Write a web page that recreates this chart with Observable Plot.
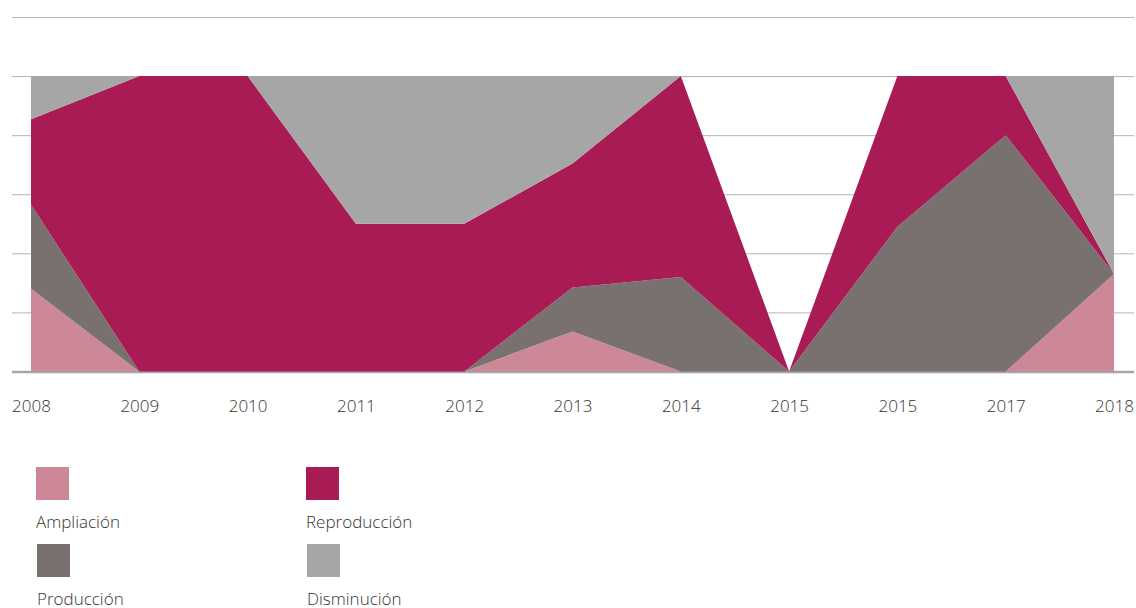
<!DOCTYPE html>
<html>
<head>
<meta charset="utf-8">
<script src="https://cdn.jsdelivr.net/npm/d3@7"></script>
<script src="https://cdn.jsdelivr.net/npm/@observablehq/plot@0.6"></script>
<style>
  html, body { margin: 0; padding: 0; background: #fff; }
  body { width: 1136px; height: 608px; overflow: hidden; font-family: "Open Sans", sans-serif; }
  #chart svg { display: block; }
  #legend { position: relative; width: 1136px; height: 158px; }
  .item { position: absolute; }
  .sw { width: 33px; height: 33px; }
  .lab { position: absolute; left: 0; top: 44px; font-size: 17px; font-weight: 300; line-height: 22px; color: #333; white-space: nowrap; }
</style>
</head>
<body>
<div id="chart"></div>
<div id="legend"></div>
<script>
const labels = ["2008","2009","2010","2011","2012","2013","2014","2015","2015","2017","2018"];
const seriesNames = ["Ampliación","Producción","Reproducción","Disminución"];
const seriesColors = ["#cc8896","#787170","#a91b54","#a6a6a6"];
const ampliacion   = [28,   0,   0,   0,  0, 13.5,  0, 0,  0,  0, 33];
const produccion   = [28.5, 0,   0,   0,  0, 14.9, 32, 0, 49, 80,  0];
const reproduccion = [28.9, 100, 100, 50, 50, 42,  68, 0, 51, 20,  0];
const disminucion  = [14.6, 0,   0,   50, 50, 29.6, 0, 0,  0,  0, 67];
const yGrid = [20, 40, 60, 80, 100, 120];

const seriesValues = [ampliacion, produccion, reproduccion, disminucion];
const data = [];
seriesNames.forEach((s, k) => {
  seriesValues[k].forEach((v, i) => data.push({i, series: s, value: v}));
});

const plot = Plot.plot({
  width: 1136,
  height: 450,
  marginLeft: 31,
  marginRight: 22,
  marginTop: 17,
  marginBottom: 78.5,
  style: {fontFamily: "'Open Sans', sans-serif", fontSize: "17px", fontWeight: 300, background: "#fff"},
  x: {type: "linear", domain: [0, labels.length - 1], axis: null},
  y: {domain: [0, 120], axis: null},
  color: {domain: seriesNames, range: seriesColors},
  marks: [
    Plot.ruleY(yGrid, {stroke: "#b3b3b3", strokeWidth: 1, insetLeft: -19, insetRight: -20}),
    Plot.ruleY([0], {stroke: "#a6a6a6", strokeWidth: 2.5, insetLeft: -19, insetRight: -20}),
    Plot.areaY(data, {x: "i", y: "value", fill: "series", z: "series", order: seriesNames, curve: "linear"}),
    Plot.axisX(d3.range(labels.length), {tickSize: 0, tickPadding: 28, tickFormat: i => labels[i], fontSize: 17, fill: "#333", label: null})
  ]
});
document.getElementById("chart").appendChild(plot);

const legend = document.getElementById("legend");
const pos = [[36, 17], [37, 94], [306, 17], [307, 94]];
const legendOrder = ["Ampliación","Producción","Reproducción","Disminución"];
legendOrder.forEach((name, k) => {
  const it = document.createElement("div");
  it.className = "item";
  it.style.left = pos[k][0] + "px";
  it.style.top = pos[k][1] + "px";
  const sw = document.createElement("div");
  sw.className = "sw";
  sw.style.background = seriesColors[seriesNames.indexOf(name)];
  const lab = document.createElement("div");
  lab.className = "lab";
  lab.textContent = name;
  it.appendChild(sw);
  it.appendChild(lab);
  legend.appendChild(it);
});
</script>
</body>
</html>
